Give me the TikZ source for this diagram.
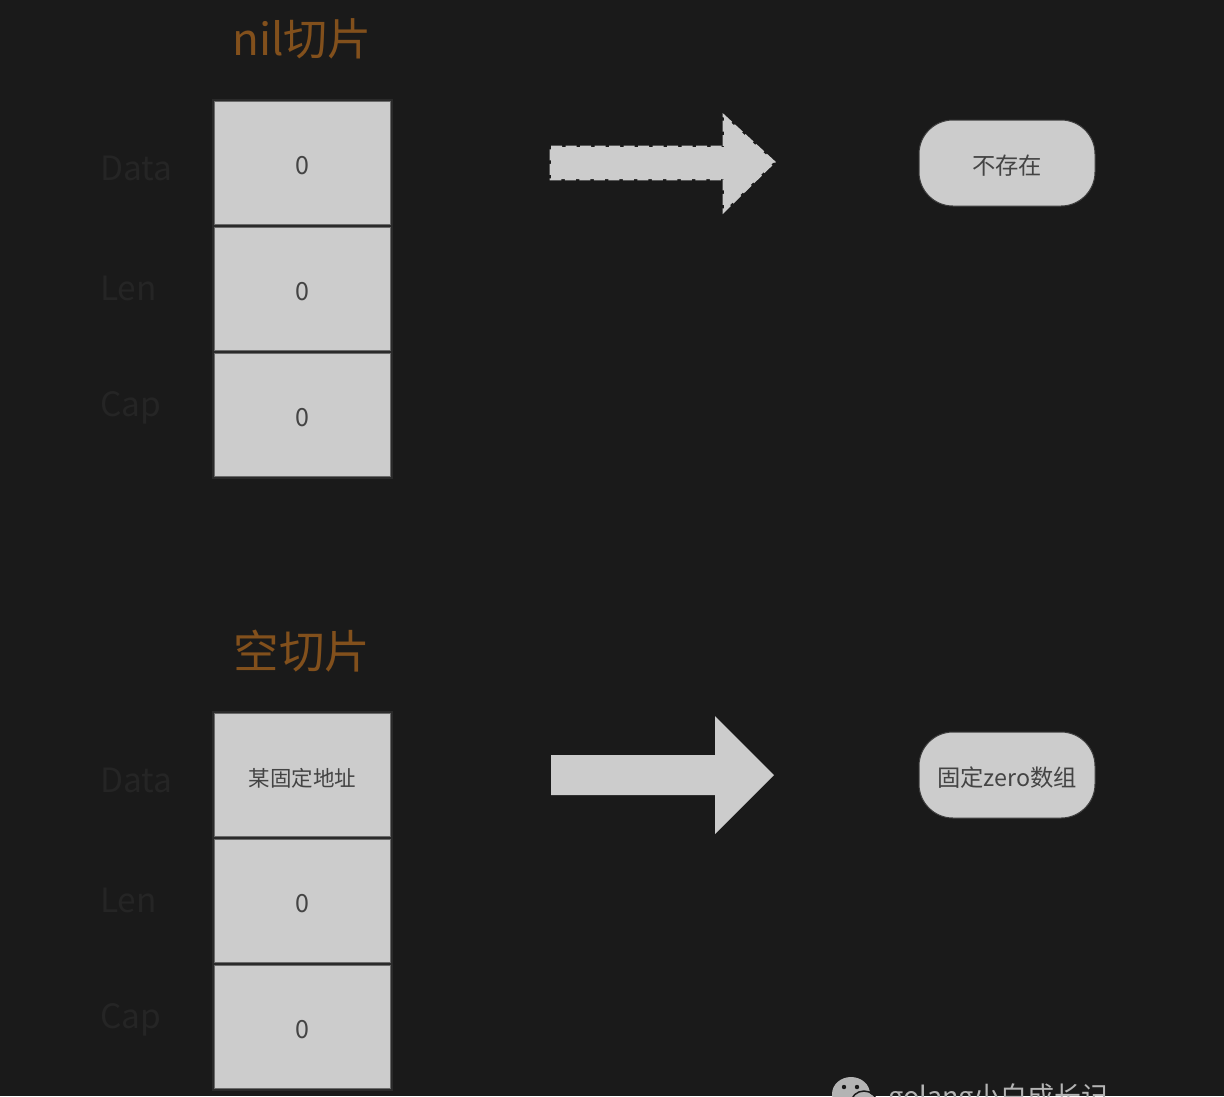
\documentclass[tikz,border=0pt]{standalone}
\usepackage{fontspec}
\setmainfont{Noto Sans CJK SC}
\tikzset{
  cell/.style={draw=cellrim,line width=1.2pt,fill=cellfill,text=celltext,minimum width=176pt,minimum height=123pt,inner sep=0pt,text height=23pt,text depth=0pt,font=\fontsize{25}{27}\selectfont,preaction={draw=cellhalo,line width=5pt}},
  ghost/.style={text=ghosttext,anchor=west,inner sep=0pt,font=\fontsize{33.5}{36}\selectfont},
  heading/.style={text=titletext,inner sep=0pt,font=\fontsize{44}{48}\selectfont},
  pill/.style={rounded corners=34pt,draw=bgdark!80!cellfill,line width=1pt,fill=cellfill,text=celltext,minimum width=176pt,minimum height=86pt,inner sep=0pt,text height=23pt,text depth=0pt,font=\fontsize{23.3}{26}\selectfont},
  bigarrow/.style={fill=cellfill},
}
\definecolor{bgdark}{HTML}{1A1A1A}
\definecolor{cellfill}{HTML}{CCCCCC}
\definecolor{cellrim}{HTML}{6A6A6A}
\definecolor{cellhalo}{HTML}{2A2A2A}
\definecolor{celltext}{HTML}{444444}
\definecolor{ghosttext}{HTML}{252525}
\definecolor{titletext}{HTML}{82501C}
\definecolor{marktext}{HTML}{B4B4B4}
\begin{document}
\begin{tikzpicture}[x=1pt,y=-1pt]
\useasboundingbox (0,0) rectangle (1224,1096);
\clip (0,0) rectangle (1224,1096);
\fill[bgdark] (0,0) rectangle (1224,1096);
% top group
\node[heading] (t1) at (302,39) {nil切片};
\node[ghost] (d1) at (100,168.5) {Data};
\node[ghost] (l1) at (100,288.5) {Len};
\node[ghost] (c1) at (100,407.5) {Cap};
\node[cell] (a1) at (302.5,163) {0};
\node[cell] (a2) at (302.5,289) {0};
\node[cell] (a3) at (302.5,415) {0};
\fill[bigarrow] (551,147) -- (724,147) -- (724,116) -- (774,162) -- (724,211) -- (724,179) -- (551,179) -- cycle;
\draw[cellfill,line width=2.6pt,dash pattern=on 11pt off 3.5pt] (551,147) -- (724,147) -- (724,116) -- (774,162) -- (724,211) -- (724,179) -- (551,179) -- cycle;
\node[pill] (p1) at (1007,163) {不存在};
% bottom group
\node[heading,font=\fontsize{45.5}{48}\selectfont] (t2) at (302,651) {空切片};
\node[ghost] (d2) at (100,780.5) {Data};
\node[ghost] (l2) at (100,900.5) {Len};
\node[ghost] (c2) at (100,1019.5) {Cap};
\node[cell,font=\fontsize{21.5}{24}\selectfont] (b1) at (302.5,775) {某固定地址};
\node[cell] (b2) at (302.5,901) {0};
\node[cell] (b3) at (302.5,1027) {0};
\fill[bigarrow] (551,755) -- (715,755) -- (715,716) -- (774,775) -- (715,834) -- (715,795) -- (551,795) -- cycle;
\node[pill] (p2) at (1007,775) {固定zero数组};
% watermark
\fill[marktext] (851,1094) ellipse (19pt and 17pt);
\fill[marktext] (864,1103) ellipse (12pt and 11pt);
\draw[bgdark,line width=1.5pt] (864,1103) ellipse (13pt and 12pt);
\fill[bgdark] (844,1087) circle (2.2pt) (857,1087) circle (2.2pt);
\node[text=marktext,anchor=west,inner sep=0pt,font=\fontsize{27}{30}\selectfont] (wm) at (888,1098) {golang小白成长记};
\end{tikzpicture}
\end{document}
